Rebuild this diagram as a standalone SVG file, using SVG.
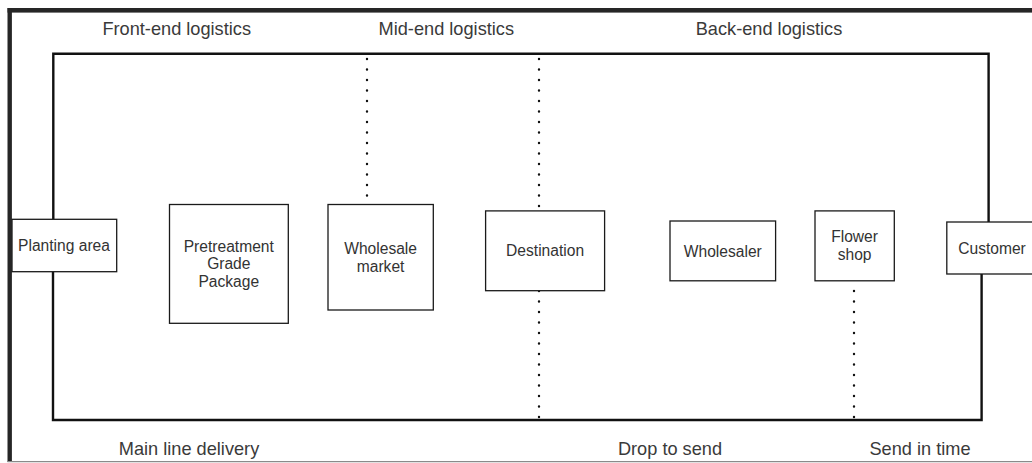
<svg xmlns="http://www.w3.org/2000/svg" width="1032" height="463" viewBox="0 0 1032 463">
<style>
.box{fill:#ffffff;stroke:#1a1a1a;stroke-width:1.3}
.nt{font-family:"Liberation Sans",Arial,sans-serif;font-size:15.6px;fill:#333333;text-anchor:middle}
.lt{font-family:"Liberation Sans",Arial,sans-serif;font-size:18.2px;fill:#3a3a3a;text-anchor:middle}
.solid{fill:none;stroke:#111111;stroke-width:2.4}
.dot{fill:none;stroke:#111111;stroke-width:2.4;stroke-linecap:round;stroke-dasharray:0.1 10.4}
</style>
<rect x="0" y="0" width="1032" height="463" fill="#ffffff"/>
<g id="frame">
<rect x="7.5" y="8" width="1025" height="4.6" fill="#262626"/>
<rect x="7.5" y="8" width="4.4" height="454" fill="#262626"/>
<line x1="7.5" y1="461.7" x2="1032" y2="461.7" stroke="#8a8a8a" stroke-width="1.2"/>
</g>
<g id="connectors">
<polyline class="solid" points="53.3,219 53.3,53.8 988.6,53.8 988.6,222"/>
<polyline class="solid" points="53,272 53,420 981.6,420 981.6,274"/>
<line class="dot" x1="367" y1="59" x2="367" y2="204"/>
<line class="dot" x1="539" y1="59" x2="539" y2="211"/>
<line class="dot" x1="539" y1="291" x2="539" y2="420"/>
<line class="dot" x1="854" y1="291" x2="854" y2="420"/>
</g>
<g id="labels">
<text class="lt" x="176.7" y="35">Front-end logistics</text>
<text class="lt" x="446.3" y="35">Mid-end logistics</text>
<text class="lt" x="769" y="35">Back-end logistics</text>
<text class="lt" x="189" y="455">Main line delivery</text>
<text class="lt" x="670" y="455">Drop to send</text>
<text class="lt" x="920" y="455">Send in time</text>
</g>
<g id="planting-area">
<rect class="box" x="12" y="219.3" width="104.7" height="52.4"/>
<text class="nt" x="64" y="251.3">Planting area</text>
</g>
<g id="pretreatment">
<rect class="box" x="169.5" y="204.5" width="118.8" height="118.8"/>
<text class="nt" x="228.8" y="251.6">Pretreatment</text>
<text class="nt" x="228.8" y="269.4">Grade</text>
<text class="nt" x="228.8" y="287.2">Package</text>
</g>
<g id="wholesale-market">
<rect class="box" x="328" y="204.5" width="105.3" height="105.5"/>
<text class="nt" x="380.6" y="254">Wholesale</text>
<text class="nt" x="380.6" y="271.8">market</text>
</g>
<g id="destination">
<rect class="box" x="485.6" y="210.9" width="119" height="79.8"/>
<text class="nt" x="545.1" y="256.4">Destination</text>
</g>
<g id="wholesaler">
<rect class="box" x="670" y="221" width="105.6" height="59.8"/>
<text class="nt" x="722.8" y="256.6">Wholesaler</text>
</g>
<g id="flower-shop">
<rect class="box" x="815" y="210.9" width="79.3" height="69.9"/>
<text class="nt" x="854.6" y="242">Flower</text>
<text class="nt" x="854.6" y="259.8">shop</text>
</g>
<g id="customer">
<rect class="box" x="946.8" y="222" width="90" height="52"/>
<text class="nt" x="992" y="253.8">Customer</text>
</g>
</svg>
